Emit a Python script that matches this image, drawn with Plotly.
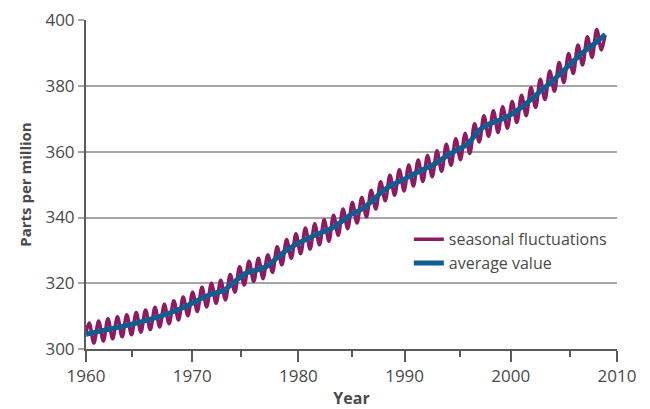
import plotly.graph_objects as go

# ---- data ----
avg_years = [1960, 1961, 1962, 1963, 1964, 1965, 1966, 1967, 1968, 1969,
             1970, 1971, 1972, 1973, 1974, 1975, 1976, 1977, 1978, 1979,
             1980, 1981, 1982, 1983, 1984, 1985, 1986, 1987, 1988, 1989,
             1990, 1991, 1992, 1993, 1994, 1995, 1996, 1997, 1998, 1999,
             2000, 2001, 2002, 2003, 2004, 2005, 2006, 2007, 2008, 2008.9]
avg_values = [304.5, 305.2, 305.9, 306.6, 307.3, 308.1, 309.0, 310.0, 311.1, 312.4,
              313.9, 315.6, 316.9, 317.9, 320.5, 323.0, 324.0, 325.1, 327.8, 330.3,
              332.2, 333.8, 335.2, 336.5, 338.6, 341.0, 342.6, 345.2, 348.2, 350.2,
              351.7, 353.5, 355.0, 356.6, 358.8, 360.7, 362.5, 366.5, 368.5, 369.7,
              371.3, 373.5, 376.2, 379.0, 381.8, 384.8, 387.9, 390.8, 393.2, 395.7]

seasonal_times = [
    1960.00, 1960.30, 1960.74, 1961.19, 1961.63, 1962.07, 1962.51, 1962.96, 1963.40,
    1963.84, 1964.28, 1964.73, 1965.17, 1965.61, 1966.05, 1966.50, 1966.94,
    1967.38, 1967.82, 1968.27, 1968.71, 1969.15, 1969.59, 1970.04, 1970.48,
    1970.92, 1971.36, 1971.81, 1972.25, 1972.69, 1973.13, 1973.58, 1974.02,
    1974.46, 1974.90, 1975.35, 1975.79, 1976.23, 1976.67, 1977.12, 1977.56,
    1978.00, 1978.44, 1978.89, 1979.33, 1979.77, 1980.21, 1980.66, 1981.10,
    1981.54, 1981.98, 1982.43, 1982.87, 1983.31, 1983.75, 1984.20, 1984.64,
    1985.08, 1985.52, 1985.97, 1986.41, 1986.85, 1987.29, 1987.74, 1988.18,
    1988.62, 1989.06, 1989.51, 1989.95, 1990.39, 1990.83, 1991.28, 1991.72,
    1992.16, 1992.60, 1993.05, 1993.49, 1993.93, 1994.37, 1994.82, 1995.26,
    1995.70, 1996.14, 1996.59, 1997.03, 1997.47, 1997.91, 1998.36, 1998.80,
    1999.24, 1999.68, 2000.13, 2000.57, 2001.01, 2001.45, 2001.90, 2002.34,
    2002.78, 2003.22, 2003.67, 2004.11, 2004.55, 2004.99, 2005.44, 2005.88,
    2006.32, 2006.76, 2007.21, 2007.65, 2008.09, 2008.53, 2008.85]
seasonal_values = [
    305.0, 307.9, 301.8, 308.5, 302.4, 309.2, 303.1, 309.8, 303.7,
    310.4, 304.3, 311.1, 305.1, 311.9, 305.9, 312.7, 306.7,
    313.6, 307.7, 314.7, 308.8, 315.8, 310.1, 317.3, 311.4,
    318.8, 312.8, 320.0, 313.9, 320.9, 314.9, 322.7, 317.3,
    325.0, 319.5, 326.7, 320.5, 327.6, 321.4, 328.7, 323.3,
    331.1, 325.6, 333.3, 327.6, 335.1, 329.0, 336.8, 330.4,
    338.1, 331.7, 339.3, 332.8, 340.7, 334.6, 342.6, 336.6,
    344.6, 338.3, 346.1, 340.2, 348.3, 342.6, 350.9, 345.1,
    352.9, 346.8, 354.5, 348.1, 356.0, 349.6, 357.5, 351.0,
    358.9, 352.4, 360.3, 354.1, 362.3, 355.9, 364.0, 357.6,
    365.6, 359.5, 368.5, 363.0, 371.0, 364.7, 372.5, 365.9,
    373.7, 367.2, 375.3, 368.9, 377.2, 371.0, 379.6, 373.5,
    382.1, 375.9, 384.6, 378.4, 387.2, 381.1, 389.9, 383.8,
    392.5, 386.4, 395.0, 388.7, 397.2, 391.0, 395.3]

x_ticks = [1960, 1970, 1980, 1990, 2000, 2010]
x_minor_ticks = [1964.3, 1974.6, 1985.0, 1995.2, 2005.6]
y_ticks = [300, 320, 340, 360, 380, 400]

PURPLE = "#8c1b63"
BLUE = "#0f5d91"
GREY_TEXT = "#4a4a4a"
AXIS = "#5a5a5a"
GRID = "#a6a6a6"
FONT = "Open Sans"

fig = go.Figure()
fig.add_trace(go.Scatter(
    x=seasonal_times, y=seasonal_values, mode="lines",
    name="seasonal fluctuations",
    line=dict(color=PURPLE, width=3.5, shape="spline", smoothing=1.0),
))
fig.add_trace(go.Scatter(
    x=avg_years, y=avg_values, mode="lines",
    name="average value",
    line=dict(color=BLUE, width=5, shape="spline", smoothing=0.6),
))

# the page body keeps an 8px default margin, so the figure is sized to fit
fig.update_layout(
    width=642, height=401,
    margin=dict(l=78, r=33, t=12, b=60),
    paper_bgcolor="white", plot_bgcolor="white",
    font=dict(family=FONT, color=GREY_TEXT, size=17),
    showlegend=True,
    legend=dict(x=0.608, y=0.385, xanchor="left", yanchor="top",
                bgcolor="rgba(0,0,0,0)", font=dict(size=16, color=GREY_TEXT),
                itemwidth=30, tracegroupgap=0),
    xaxis=dict(
        range=[1960, 2010], tickvals=x_ticks, ticktext=[str(v) for v in x_ticks],
        showgrid=False, zeroline=False, automargin=False,
        showline=True, linecolor=AXIS, linewidth=2,
        ticks="outside", ticklen=11, tickwidth=1.5, tickcolor=AXIS,
        minor=dict(tickvals=x_minor_ticks, ticks="outside", ticklen=6,
                   tickwidth=1.5, tickcolor=AXIS, showgrid=False),
        tickfont=dict(size=17, color=GREY_TEXT),
        title=dict(text="<b>Year</b>", font=dict(size=16, color=GREY_TEXT), standoff=8),
    ),
    yaxis=dict(
        range=[300, 400.1], tickvals=y_ticks,
        showgrid=True, gridcolor=GRID, gridwidth=1.5, zeroline=False, automargin=False,
        showline=True, linecolor=AXIS, linewidth=2,
        ticks="outside", ticklen=6, tickwidth=1.5, tickcolor=GRID,
        tickfont=dict(size=17, color=GREY_TEXT),
        title=dict(text="<b>Parts per million</b>", font=dict(size=15, color=GREY_TEXT), standoff=10),
    ),
)

fig.write_html("out.html")
